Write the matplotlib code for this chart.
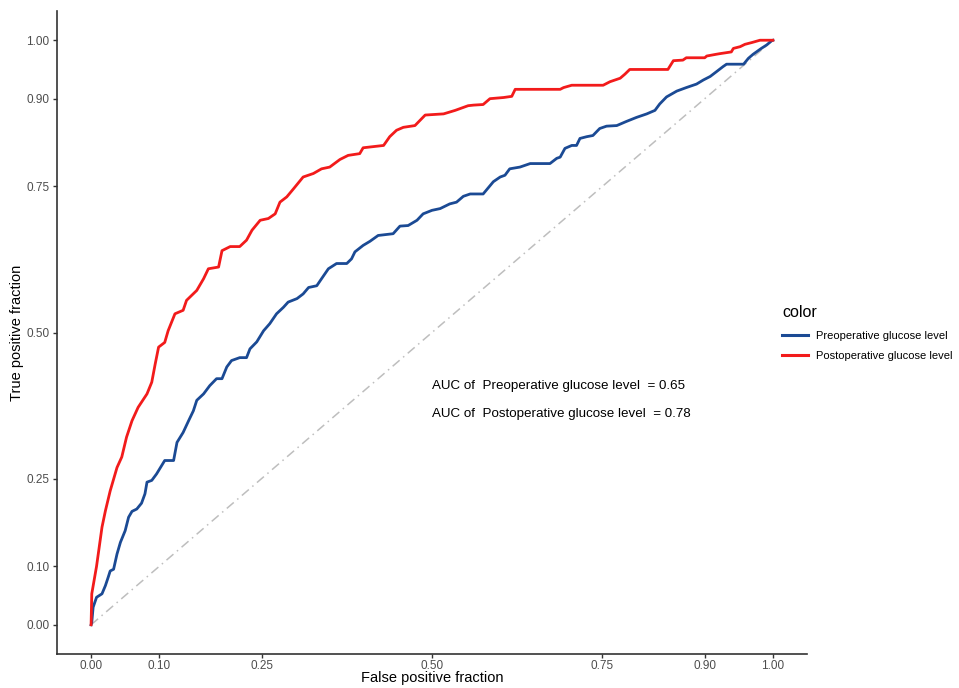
import matplotlib
matplotlib.use("Agg")
import matplotlib.pyplot as plt
from matplotlib.lines import Line2D

plt.rcParams['font.family'] = ['Liberation Sans', 'DejaVu Sans']

tick_vals = [0.0, 0.10, 0.25, 0.50, 0.75, 0.90, 1.00]
tick_labels = ["0.00", "0.10", "0.25", "0.50", "0.75", "0.90", "1.00"]

series_names = ["Preoperative glucose level", "Postoperative glucose level"]
series_colors = ["#1B4A94", "#F21B1B"]
auc_values = [0.65, 0.78]

pre_fpr = [0, 0.001, 0.003, 0.008, 0.016, 0.021, 0.025, 0.028, 0.033, 0.038, 0.043, 0.050,
           0.055, 0.060, 0.067, 0.074, 0.079, 0.082, 0.089, 0.096, 0.108, 0.121, 0.126,
           0.135, 0.143, 0.150, 0.155, 0.165, 0.174, 0.184, 0.192, 0.199, 0.206, 0.218,
           0.228, 0.233, 0.243, 0.253, 0.262, 0.272, 0.282, 0.289, 0.302, 0.311, 0.319,
           0.331, 0.338, 0.348, 0.360, 0.375, 0.382, 0.387, 0.399, 0.409, 0.421, 0.443,
           0.453, 0.465, 0.478, 0.487, 0.500, 0.512, 0.526, 0.536, 0.546, 0.556, 0.575,
           0.590, 0.600, 0.607, 0.614, 0.629, 0.644, 0.673, 0.683, 0.688, 0.695, 0.705,
           0.712, 0.717, 0.727, 0.736, 0.746, 0.756, 0.771, 0.785, 0.800, 0.815, 0.827,
           0.834, 0.844, 0.859, 0.873, 0.888, 0.898, 0.908, 0.917, 0.927, 0.932, 0.957,
           0.964, 0.971, 0.983, 0.991, 0.998, 1.0]
pre_tpr = [0, 0.004, 0.030, 0.047, 0.053, 0.067, 0.081, 0.092, 0.095, 0.121, 0.141, 0.161,
           0.184, 0.194, 0.198, 0.208, 0.224, 0.244, 0.247, 0.258, 0.281, 0.281, 0.312,
           0.329, 0.349, 0.366, 0.384, 0.395, 0.409, 0.421, 0.421, 0.441, 0.452, 0.457,
           0.457, 0.472, 0.484, 0.503, 0.515, 0.532, 0.543, 0.552, 0.558, 0.566, 0.577,
           0.580, 0.592, 0.609, 0.618, 0.618, 0.626, 0.638, 0.649, 0.656, 0.666, 0.669,
           0.682, 0.683, 0.692, 0.703, 0.709, 0.712, 0.720, 0.723, 0.733, 0.737, 0.737,
           0.758, 0.766, 0.769, 0.780, 0.783, 0.789, 0.789, 0.798, 0.800, 0.815, 0.820,
           0.820, 0.832, 0.835, 0.837, 0.849, 0.853, 0.854, 0.861, 0.868, 0.874, 0.880,
           0.891, 0.903, 0.913, 0.919, 0.925, 0.932, 0.938, 0.946, 0.955, 0.959, 0.959,
           0.969, 0.976, 0.986, 0.992, 0.999, 1.0]

post_fpr = [0, 0.001, 0.008, 0.016, 0.021, 0.028, 0.038, 0.045, 0.052, 0.060, 0.069, 0.082,
            0.089, 0.094, 0.099, 0.108, 0.113, 0.123, 0.135, 0.140, 0.155, 0.165, 0.172,
            0.187, 0.192, 0.204, 0.218, 0.228, 0.236, 0.248, 0.260, 0.270, 0.277, 0.287,
            0.297, 0.311, 0.326, 0.338, 0.350, 0.365, 0.377, 0.394, 0.399, 0.429, 0.438,
            0.448, 0.458, 0.475, 0.490, 0.517, 0.534, 0.553, 0.561, 0.575, 0.585, 0.605,
            0.617, 0.622, 0.688, 0.693, 0.705, 0.751, 0.761, 0.776, 0.783, 0.790, 0.846,
            0.854, 0.868, 0.873, 0.900, 0.903, 0.917, 0.922, 0.939, 0.942, 0.952, 0.959,
            0.969, 0.981, 1.0]
post_tpr = [0, 0.053, 0.100, 0.167, 0.195, 0.229, 0.269, 0.287, 0.321, 0.349, 0.372, 0.395,
            0.415, 0.446, 0.475, 0.483, 0.503, 0.532, 0.538, 0.555, 0.572, 0.592, 0.609,
            0.612, 0.640, 0.647, 0.647, 0.658, 0.675, 0.692, 0.695, 0.703, 0.723, 0.732,
            0.746, 0.766, 0.772, 0.780, 0.783, 0.796, 0.803, 0.806, 0.816, 0.820, 0.835,
            0.846, 0.851, 0.854, 0.872, 0.874, 0.880, 0.888, 0.889, 0.890, 0.900, 0.902,
            0.904, 0.916, 0.916, 0.919, 0.923, 0.923, 0.929, 0.935, 0.942, 0.950, 0.950,
            0.965, 0.966, 0.970, 0.970, 0.973, 0.976, 0.977, 0.980, 0.986, 0.989, 0.993,
            0.996, 1.0, 1.0]

fig = plt.figure(figsize=(9.59, 6.88), dpi=100)
ax = fig.add_axes([57/959, 1 - 654/688, (807 - 57)/959, (654 - 11)/688])

ax.plot([0, 1], [0, 1], color="#BEBEBE", lw=1.1, ls=(0, (6, 3, 1, 3)), zorder=1)
ax.plot(pre_fpr, pre_tpr, color=series_colors[0], lw=2.0, zorder=3, solid_joinstyle="round")
ax.plot(post_fpr, post_tpr, color=series_colors[1], lw=2.0, zorder=3, solid_joinstyle="round")

ax.set_xlim(-0.05, 1.05)
ax.set_ylim(-0.05, 1.05)
ax.set_xticks(tick_vals)
ax.set_xticklabels(tick_labels)
ax.set_yticks(tick_vals)
ax.set_yticklabels(tick_labels)
ax.tick_params(axis="both", length=3, width=1, color="#333333", labelcolor="#4D4D4D",
               labelsize=8.5)
ax.tick_params(axis="x", pad=1.5)
ax.tick_params(axis="y", pad=2.5)
for s in ["top", "right"]:
    ax.spines[s].set_visible(False)
for s in ["left", "bottom"]:
    ax.spines[s].set_color("#333333")
    ax.spines[s].set_linewidth(1.2)

ax.set_xlabel("False positive fraction", fontsize=10.5, va="center")
ax.set_ylabel("True positive fraction", fontsize=10.5, va="center")
ax.xaxis.set_label_coords(0.5, (654 - 678) / 643)
ax.yaxis.set_label_coords((17 - 57) / 750, 0.5)

ax.text(0.5, 0.409, f"AUC of  {series_names[0]}  = {auc_values[0]:.2f}", fontsize=9.6,
        ha="left", va="center")
ax.text(0.5, 0.360, f"AUC of  {series_names[1]}  = {auc_values[1]:.2f}", fontsize=9.6,
        ha="left", va="center")

handles = [Line2D([0], [0], color=c, lw=2.2) for c in series_colors]
leg = fig.legend(handles, series_names, title="color", loc="upper left",
                 bbox_to_anchor=(772/959, 1 - 295/688), frameon=False, fontsize=8,
                 title_fontsize=11.5, handlelength=2.3, handletextpad=0.8, labelspacing=0.95,
                 alignment="left")

fig.savefig("out.png", dpi=100)
